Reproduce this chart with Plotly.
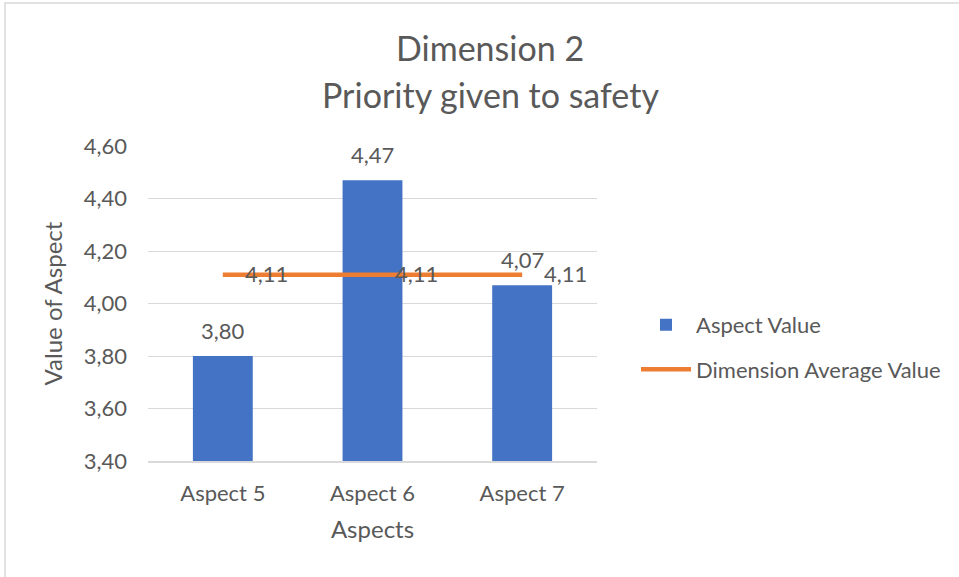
import plotly.graph_objects as go

categories = ["Aspect 5", "Aspect 6", "Aspect 7"]
aspect_values = [3.80, 4.47, 4.07]
average_values = [4.11, 4.11, 4.11]
y_ticks = [3.40, 3.60, 3.80, 4.00, 4.20, 4.40, 4.60]

FONT = "Lato"
TXT = "#595959"
BLUE = "#4472C4"
ORANGE = "#ED7D31"
FS = 22

W, H = 959, 577
L, R, T, B = 148, 362, 146, 116
pw, ph = W - L - R, H - T - B

fig = go.Figure()
fig.add_trace(go.Bar(
    x=categories, y=aspect_values, name="Aspect Value",
    marker=dict(color=BLUE, line=dict(width=0)), width=0.4,
    legendgroup="a",
))
fig.add_trace(go.Scatter(
    x=categories, y=average_values, name="Dimension Average Value",
    mode="lines", line=dict(color=ORANGE, width=4.5),
    legendgroup="b",
))

annotations = []
for c, v in zip(categories, aspect_values):
    annotations.append(dict(x=c, y=v, text=f"{v:.2f}".replace(".", ","),
                            showarrow=False, yanchor="middle", yshift=26,
                            font=dict(family=FONT, size=FS, color=TXT)))
for c, v in zip(categories, average_values):
    annotations.append(dict(x=c, y=v, text=f"{v:.2f}".replace(".", ","),
                            showarrow=False, xanchor="left", yanchor="middle",
                            xshift=20, yshift=1,
                            font=dict(family=FONT, size=FS, color=TXT)))
# title lines
annotations.append(dict(xref="paper", yref="paper", x=(490 - L) / pw, y=(H - B - 47) / ph,
                        text="Dimension 2", showarrow=False, xanchor="center", yanchor="middle",
                        font=dict(family=FONT, size=34, color=TXT)))
annotations.append(dict(xref="paper", yref="paper", x=(490 - L) / pw, y=(H - B - 95) / ph,
                        text="Priority given to safety", showarrow=False, xanchor="center", yanchor="middle",
                        font=dict(family=FONT, size=34, color=TXT)))

fig.update_layout(
    width=W, height=H,
    margin=dict(l=L, r=R, t=T, b=B, autoexpand=False),
    paper_bgcolor="white", plot_bgcolor="white",
    separators=",.",
    font=dict(family=FONT, size=FS, color=TXT),
    showlegend=True,
    legend=dict(x=(636 - L) / pw, y=(H - B - 326) / ph + 0.07, xanchor="left", yanchor="top",
                traceorder="grouped", tracegroupgap=13, itemwidth=50,
                font=dict(family=FONT, size=FS, color=TXT), bgcolor="rgba(0,0,0,0)"),
    annotations=annotations,
    shapes=[dict(type="rect", xref="paper", yref="paper",
                 x0=(5 - L) / pw, x1=2, y0=-2, y1=(H - B - 3) / ph,
                 line=dict(color="#D9D9D9", width=1.5), layer="below")],
)
fig.update_xaxes(
    showgrid=False, showline=True, linecolor="#D9D9D9", linewidth=1.5,
    ticks="", ticklabelstandoff=12,
    tickfont=dict(family=FONT, size=FS, color=TXT),
    title=dict(text="Aspects", font=dict(family=FONT, size=24, color=TXT), standoff=16),
)
fig.update_yaxes(
    range=[3.40, 4.60], tickvals=y_ticks, tickformat=".2f",
    showgrid=True, gridcolor="#D9D9D9", gridwidth=1.2,
    showline=False, zeroline=False, ticks="", ticklabelstandoff=20,
    tickfont=dict(family=FONT, size=FS, color=TXT),
    title=dict(text="Value of Aspect", font=dict(family=FONT, size=24, color=TXT), standoff=14),
)
fig.write_html("out.html")
